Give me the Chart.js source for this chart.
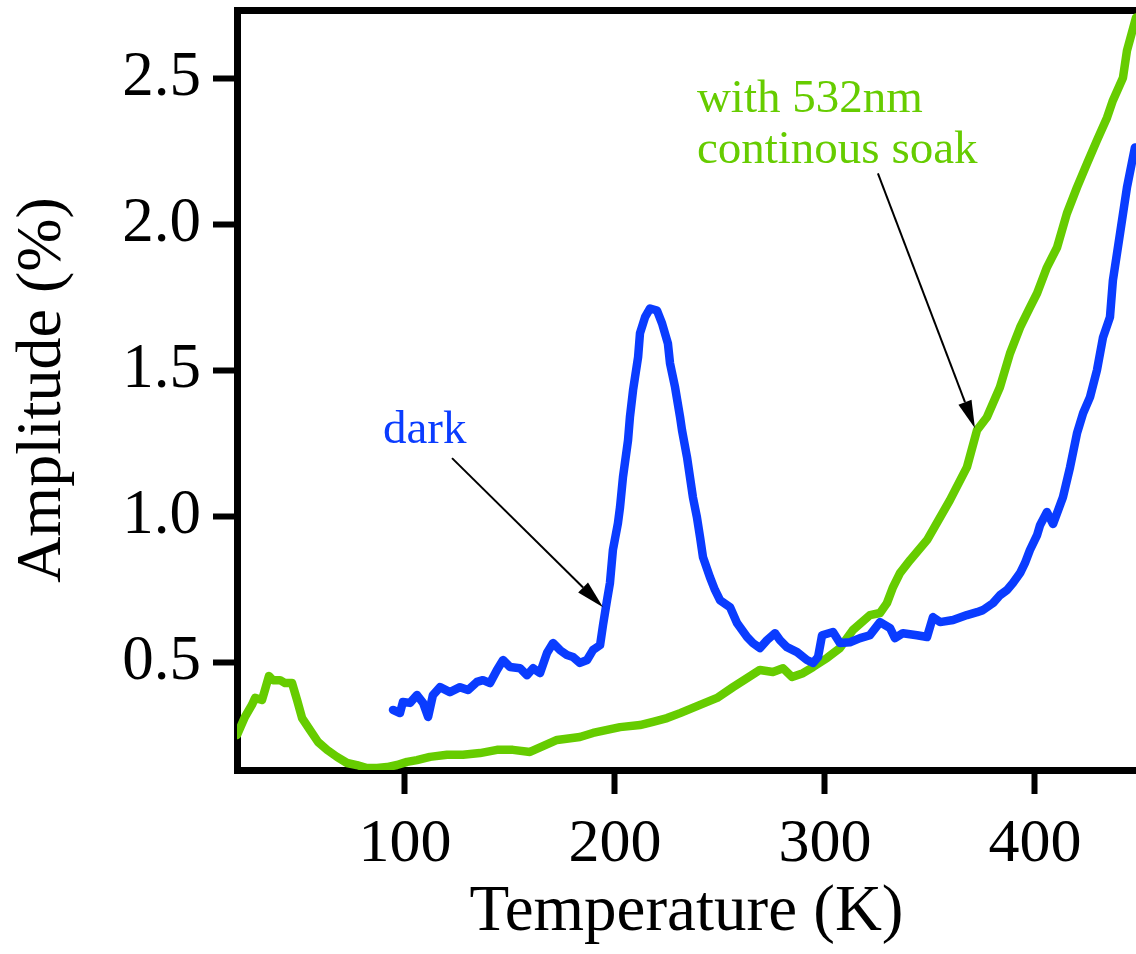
<!DOCTYPE html>
<html>
<head>
<meta charset="utf-8">
<title>Amplitude vs Temperature</title>
<script src="https://cdn.jsdelivr.net/npm/chart.js@4.4.1/dist/chart.umd.min.js"></script>
<style>
  html, body { margin: 0; padding: 0; background: #fff; }
  canvas { display: block; }
</style>
</head>
<body>
<canvas id="ampChart" width="1136" height="954"></canvas>
<script>
// temperature (K) / amplitude (%)
const greenT = [20.0, 23.8, 27.1, 28.6, 31.9, 33.3, 35.2, 37.1, 40.5, 42.9, 46.2, 48.6, 51.0, 54.8, 58.6, 62.9, 67.6, 72.4, 77.1, 81.9, 86.7, 91.4, 96.2, 101.0, 105.7, 111.9, 120.0, 127.6, 135.7, 143.8, 151.4, 159.5, 172.4, 183.3, 189.5, 202.4, 211.9, 218.1, 224.8, 231.0, 240.5, 248.6, 256.2, 262.9, 269.0, 275.2, 280.0, 284.3, 289.5, 294.3, 301.0, 307.1, 313.3, 321.4, 326.2, 329.5, 332.4, 335.7, 340.5, 348.6, 359.5, 367.6, 372.4, 377.1, 383.3, 388.1, 392.9, 397.6, 401.0, 405.7, 410.5, 415.2, 420.0, 424.8, 429.5, 434.3, 437.1, 441.9, 443.8, 448.1];
const greenA = [0.250, 0.312, 0.353, 0.377, 0.370, 0.404, 0.452, 0.438, 0.438, 0.428, 0.428, 0.370, 0.308, 0.267, 0.226, 0.199, 0.175, 0.154, 0.147, 0.137, 0.137, 0.140, 0.147, 0.158, 0.164, 0.175, 0.182, 0.182, 0.188, 0.199, 0.199, 0.192, 0.233, 0.243, 0.257, 0.277, 0.284, 0.295, 0.308, 0.325, 0.353, 0.377, 0.414, 0.445, 0.473, 0.466, 0.479, 0.449, 0.462, 0.483, 0.514, 0.548, 0.610, 0.661, 0.668, 0.702, 0.757, 0.805, 0.849, 0.918, 1.055, 1.168, 1.295, 1.339, 1.442, 1.558, 1.647, 1.716, 1.764, 1.853, 1.921, 2.038, 2.127, 2.209, 2.288, 2.366, 2.425, 2.503, 2.596, 2.709];

const darkT = [94.3, 97.6, 99.0, 102.4, 105.7, 108.6, 111.0, 113.3, 116.7, 121.4, 126.2, 130.0, 134.3, 137.1, 140.5, 143.8, 146.7, 150.0, 154.8, 158.1, 161.0, 164.3, 167.6, 170.5, 173.8, 177.1, 180.0, 183.3, 186.7, 189.5, 192.9, 194.3, 196.2, 197.6, 199.0, 201.4, 202.4, 203.8, 206.2, 207.1, 208.6, 211.0, 211.9, 214.3, 216.7, 220.0, 222.4, 225.2, 226.2, 228.6, 231.0, 231.9, 234.3, 235.7, 237.1, 239.0, 240.5, 241.9, 245.2, 247.6, 250.0, 254.8, 258.1, 262.9, 265.7, 269.0, 272.4, 276.2, 278.6, 281.9, 286.7, 291.4, 294.3, 296.7, 298.6, 303.8, 307.1, 311.9, 316.7, 321.4, 326.2, 331.0, 333.3, 337.1, 343.8, 348.6, 351.4, 354.8, 361.0, 367.6, 372.4, 375.2, 380.0, 383.3, 386.7, 389.5, 392.9, 395.2, 397.6, 401.0, 402.4, 405.7, 408.6, 413.3, 416.7, 420.0, 422.9, 426.2, 429.5, 432.4, 435.7, 437.1, 440.5, 443.8, 447.6];
const darkA = [0.336, 0.325, 0.363, 0.360, 0.387, 0.360, 0.312, 0.387, 0.414, 0.397, 0.414, 0.404, 0.432, 0.438, 0.428, 0.473, 0.507, 0.483, 0.479, 0.455, 0.479, 0.462, 0.531, 0.565, 0.541, 0.524, 0.517, 0.497, 0.507, 0.541, 0.558, 0.627, 0.712, 0.771, 0.884, 0.976, 1.031, 1.134, 1.260, 1.339, 1.432, 1.545, 1.627, 1.682, 1.712, 1.705, 1.661, 1.592, 1.524, 1.442, 1.339, 1.295, 1.202, 1.134, 1.065, 0.997, 0.928, 0.860, 0.791, 0.747, 0.712, 0.688, 0.634, 0.586, 0.565, 0.548, 0.575, 0.599, 0.575, 0.551, 0.534, 0.507, 0.497, 0.517, 0.592, 0.603, 0.565, 0.568, 0.582, 0.592, 0.637, 0.616, 0.582, 0.599, 0.592, 0.586, 0.654, 0.637, 0.644, 0.661, 0.671, 0.678, 0.702, 0.729, 0.747, 0.771, 0.805, 0.839, 0.884, 0.935, 0.969, 1.014, 0.973, 1.065, 1.168, 1.284, 1.353, 1.408, 1.500, 1.613, 1.682, 1.808, 1.969, 2.127, 2.264];

const xTicks = [100, 200, 300, 400];
const yTicks = [0.5, 1.0, 1.5, 2.0, 2.5];

const BLUE = "#0a3cff";
const GREEN = "#66cc00";
const SERIF = "'Liberation Serif', 'Times New Roman', serif";

function toPoints(xs, ys) {
  return xs.map(function (x, i) { return { x: x, y: ys[i] }; });
}

// labels and arrows, in data units
const notes = [
  { text: "dark", x: 89.5, y: 1.25, color: BLUE },
  { text: "with 532nm", x: 239.0, y: 2.384, color: GREEN },
  { text: "continous soak", x: 239.0, y: 2.212, color: GREEN },
];
const arrows = [
  { from: [122.4, 1.199], to: [194.3, 0.688] },
  { from: [325.2, 2.175], to: [371.4, 1.301] },
];

const annotationPlugin = {
  id: "annotations",
  afterDatasetsDraw: function (chart) {
    const ctx = chart.ctx;
    const xs = chart.scales.x;
    const ys = chart.scales.y;
    ctx.save();
    ctx.font = "47px " + SERIF;
    ctx.textBaseline = "alphabetic";
    ctx.textAlign = "left";
    notes.forEach(function (n) {
      ctx.fillStyle = n.color;
      ctx.fillText(n.text, xs.getPixelForValue(n.x), ys.getPixelForValue(n.y));
    });
    ctx.strokeStyle = "#000";
    ctx.fillStyle = "#000";
    ctx.lineWidth = 2;
    arrows.forEach(function (a) {
      const x0 = xs.getPixelForValue(a.from[0]), y0 = ys.getPixelForValue(a.from[1]);
      const x1 = xs.getPixelForValue(a.to[0]), y1 = ys.getPixelForValue(a.to[1]);
      const ang = Math.atan2(y1 - y0, x1 - x0);
      const len = 28, half = 7;
      const bx = x1 - len * Math.cos(ang), by = y1 - len * Math.sin(ang);
      ctx.beginPath();
      ctx.moveTo(x0, y0);
      ctx.lineTo(bx, by);
      ctx.stroke();
      ctx.beginPath();
      ctx.moveTo(x1, y1);
      ctx.lineTo(bx + half * Math.sin(ang), by - half * Math.cos(ang));
      ctx.lineTo(bx - half * Math.sin(ang), by + half * Math.cos(ang));
      ctx.closePath();
      ctx.fill();
    });
    ctx.restore();
  },
};

const ctx = document.getElementById("ampChart").getContext("2d");
new Chart(ctx, {
  type: "line",
  data: {
    datasets: [
      {
        label: "dark",
        data: toPoints(darkT, darkA),
        borderColor: BLUE,
        borderWidth: 8.5,
        pointRadius: 0,
        tension: 0,
        borderJoinStyle: "round",
        borderCapStyle: "round",
      },
      {
        label: "with 532nm continous soak",
        data: toPoints(greenT, greenA),
        borderColor: GREEN,
        borderWidth: 8.5,
        pointRadius: 0,
        tension: 0,
        borderJoinStyle: "round",
        borderCapStyle: "round",
      },
    ],
  },
  options: {
    responsive: false,
    animation: false,
    layout: { padding: { top: 10, right: 0, bottom: 0, left: 0 } },
    plugins: {
      legend: { display: false },
      tooltip: { enabled: false },
    },
    scales: {
      x: {
        type: "linear",
        position: "bottom",
        min: 20,
        max: 448.1,
        afterBuildTicks: function (scale) {
          scale.ticks = xTicks.map(function (v) { return { value: v }; });
        },
        afterFit: function (scale) {
          scale.height = 184;
          scale.paddingLeft = 0;
          scale.paddingRight = 0;
        },
        border: { display: true, color: "#000", width: 7 },
        grid: {
          display: true,
          drawOnChartArea: false,
          drawTicks: true,
          tickLength: 24,
          tickWidth: 6,
          tickColor: "#000",
        },
        ticks: {
          color: "#000",
          font: { family: SERIF, size: 62 },
          padding: 14,
          maxRotation: 0,
          callback: function (v) { return String(v); },
        },
        title: {
          display: true,
          text: "Temperature (K)",
          color: "#000",
          font: { family: SERIF, size: 65 },
          padding: { top: 0, bottom: 2 },
        },
      },
      xTop: {
        type: "linear",
        position: "top",
        min: 20,
        max: 448.1,
        afterFit: function (scale) { scale.height = 0; },
        border: { display: true, color: "#000", width: 7 },
        grid: { display: false, drawTicks: false },
        ticks: { display: false },
      },
      y: {
        type: "linear",
        position: "left",
        min: 0.13,
        max: 2.735,
        afterBuildTicks: function (scale) {
          scale.ticks = yTicks.map(function (v) { return { value: v }; });
        },
        afterFit: function (scale) {
          scale.width = 237;
          // labels sit well inside the axis, no extra room needed above/below
          scale.paddingTop = 0;
          scale.paddingBottom = 0;
        },
        border: { display: true, color: "#000", width: 7 },
        grid: {
          display: true,
          drawOnChartArea: false,
          drawTicks: true,
          tickLength: 24,
          tickWidth: 6,
          tickColor: "#000",
        },
        ticks: {
          color: "#000",
          font: { family: SERIF, size: 63 },
          padding: 12,
          callback: function (v) { return Number(v).toFixed(1); },
        },
        title: {
          display: true,
          text: "Amplitude (%)",
          color: "#000",
          font: { family: SERIF, size: 64 },
          padding: { top: 5, bottom: 0 },
        },
      },
    },
  },
  plugins: [annotationPlugin],
});
</script>
</body>
</html>
